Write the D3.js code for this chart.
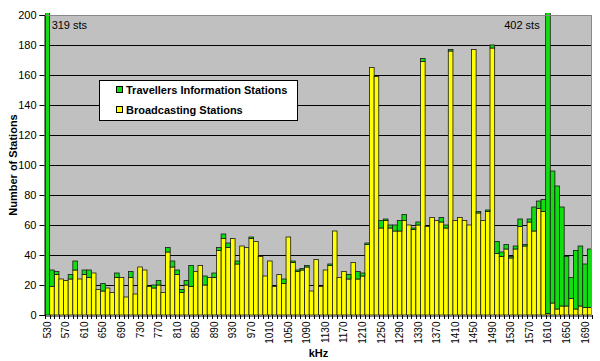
<!DOCTYPE html>
<html><head><meta charset="utf-8">
<script src="https://cdn.jsdelivr.net/npm/d3@7"></script>
<style>
html,body{margin:0;padding:0;background:#fff;}
svg{display:block;font-family:Arial,"Liberation Sans",sans-serif;}
</style></head>
<body><svg id="chart" width="600" height="361"></svg>
<script>
const categories = [530,540,550,560,570,580,590,600,610,620,630,640,650,660,670,680,690,700,710,720,
730,740,750,760,770,780,790,800,810,820,830,840,850,860,870,880,890,900,910,920,
930,940,950,960,970,980,990,1000,1010,1020,1030,1040,1050,1060,1070,1080,1090,1100,1110,1120,
1130,1140,1150,1160,1170,1180,1190,1200,1210,1220,1230,1240,1250,1260,1270,1280,1290,1300,1310,1320,
1330,1340,1350,1360,1370,1380,1390,1400,1410,1420,1430,1440,1450,1460,1470,1480,1490,1500,1510,1520,
1530,1540,1550,1560,1570,1580,1590,1600,1610,1620,1630,1640,1650,1660,1670,1680,1690,1700];

const broadcasting = [0,19,27,24,23,24,30,24,27,25,28,17,16,18,15,25,25,12,25,14,
32,30,19,18,20,15,42,32,27,15,20,19,29,33,20,25,25,43,51,45,
51,34,46,45,51,49,39,26,36,19,27,21,52,35,29,30,32,16,37,19,
30,33,56,25,29,24,35,24,26,47,165,159,58,63,58,56,56,63,60,57,
60,169,59,65,63,62,58,176,63,65,63,60,177,68,63,69,178,41,39,44,
38,44,59,46,62,56,71,69,1,8,4,6,6,11,4,6,5,5];

const travellers = [319,11,2,0,0,3,6,0,3,5,0,0,5,0,0,3,0,0,4,0,
0,0,0,2,3,0,3,4,3,2,3,14,0,0,6,0,3,2,3,3,
0,2,0,0,1,0,0,0,0,0,0,3,0,1,1,1,1,0,0,0,
0,1,0,0,0,3,0,5,2,1,0,0,5,1,2,4,7,4,0,1,
2,2,0,0,0,3,2,1,0,0,0,0,0,1,0,1,2,8,3,3,
1,2,5,1,2,16,5,8,401,88,82,66,33,14,39,40,29,39];

const tickLabels = ["530","570","610","650","690","730","770","810","850","890","930","970",
"1010","1050","1090","1130","1170","1210","1250","1290","1330","1370","1410","1450","1490",
"1530","1570","1610","1650","1690"];
const yTicks = [0,20,40,60,80,100,120,140,160,180,200];

const seriesNames = ["Travellers Information Stations","Broadcasting Stations"];
const notes = [{cat:530, text:"319 sts", side:"left"},{cat:1610, text:"402 sts", side:"right"}];

const GREEN = "#11dd11", YELLOW = "#ffff00";

const L = 45, R = 592, T = 15, B = 315;
const svg = d3.select("#chart");

const x = d3.scaleBand().domain(categories.map(String)).range([L, R]).padding(0);
const y = d3.scaleLinear().domain([0, 200]).range([B, T]);

const rows = categories.map((c, i) => ({cat: String(c), broadcasting: broadcasting[i], travellers: travellers[i]}));
const stacked = d3.stack().keys(["broadcasting", "travellers"])(rows);
const colors = {broadcasting: YELLOW, travellers: GREEN};

// plot area
svg.append("rect").attr("x", L).attr("y", T).attr("width", R - L).attr("height", B - T)
  .attr("fill", "#c0c0c0");

// gridlines
svg.append("g").selectAll("line").data(yTicks.filter(v => v > 0 && v < 200)).join("line")
  .attr("x1", L).attr("x2", R)
  .attr("y1", d => Math.round(y(d)) + 0.5).attr("y2", d => Math.round(y(d)) + 0.5)
  .attr("stroke", "#000").attr("stroke-width", 1);

svg.append("defs").append("clipPath").attr("id", "clip")
  .append("rect").attr("x", L).attr("y", T - 2).attr("width", R - L).attr("height", B - T + 2);

// bars
const gBars = svg.append("g").attr("clip-path", "url(#clip)");
stacked.forEach(s => {
  gBars.append("g").selectAll("rect").data(s).join("rect")
    .attr("x", d => x(d.data.cat))
    .attr("width", x.bandwidth())
    .attr("y", d => y(d[1]))
    .attr("height", d => Math.max(0, y(d[0]) - y(d[1])))
    .attr("fill", colors[s.key])
    .attr("stroke", "#1a1a1a").attr("stroke-width", 0.8);
});

// plot border (top/right)
svg.append("path").attr("d", `M${L},${T+0.5}H${R-0.5}V${B}`)
  .attr("fill", "none").attr("stroke", "#8a8a8a").attr("stroke-width", 1);

// y axis
const yAxis = d3.axisLeft(y).tickValues(yTicks).tickSize(5).tickPadding(3);
const gy = svg.append("g").attr("transform", `translate(${L - 0.5},0)`).call(yAxis);
gy.select(".domain").attr("stroke", "#000");
gy.selectAll(".tick line").attr("stroke", "#000");
gy.selectAll("text").attr("font-size", 11).attr("font-family", "Arial, Liberation Sans, sans-serif").attr("fill", "#000");

// x axis
const xAxis = d3.axisBottom(x).tickSize(0).tickFormat(d => tickLabels.includes(d) ? d : "");
const gx = svg.append("g").attr("transform", `translate(0,${B + 0.5})`).call(xAxis);
gx.select(".domain").attr("stroke", "#000");
gx.selectAll("text")
  .attr("font-size", 10).attr("font-family", "Arial, Liberation Sans, sans-serif").attr("fill", "#000")
  .attr("transform", "rotate(-90)")
  .attr("text-anchor", "end")
  .attr("x", -6).attr("y", 0).attr("dy", "0.35em");
// category boundary ticks
svg.append("g").selectAll("line").data(categories.concat([null])).join("line")
  .attr("x1", (d, i) => Math.round(L + i * x.step()) + 0.5)
  .attr("x2", (d, i) => Math.round(L + i * x.step()) + 0.5)
  .attr("y1", B).attr("y2", B + 4)
  .attr("stroke", "#000").attr("stroke-width", 1);

// axis titles
svg.append("text").attr("transform", `translate(13,${(T + B) / 2}) rotate(-90)`)
  .attr("text-anchor", "middle").attr("dy", "0.35em")
  .attr("font-size", 11).attr("font-weight", "bold").text("Number of Stations");
svg.append("text").attr("x", (L + R) / 2).attr("y", 357)
  .attr("text-anchor", "middle").attr("font-size", 11).attr("font-weight", "bold").text("kHz");

// notes
notes.forEach(n => {
  const cx = x(String(n.cat));
  svg.append("text")
    .attr("x", n.side === "left" ? cx + x.bandwidth() + 2 : cx - 6)
    .attr("y", 29)
    .attr("text-anchor", n.side === "left" ? "start" : "end")
    .attr("font-size", 11).attr("fill", "#000").text(n.text);
});

// legend
const lg = svg.append("g");
lg.append("rect").attr("x", 99.5).attr("y", 80.5).attr("width", 198).attr("height", 40)
  .attr("fill", "#fff").attr("stroke", "#000").attr("stroke-width", 1);
[GREEN, YELLOW].forEach((c, i) => {
  lg.append("rect").attr("x", 116.5).attr("y", 86.5 + i * 20).attr("width", 6).attr("height", 6)
    .attr("fill", c).attr("stroke", "#000").attr("stroke-width", 1);
  lg.append("text").attr("x", 126).attr("y", 90 + i * 20).attr("dy", "0.35em")
    .attr("font-size", 11).attr("font-weight", "bold").text(seriesNames[i]);
});
</script></body></html>
